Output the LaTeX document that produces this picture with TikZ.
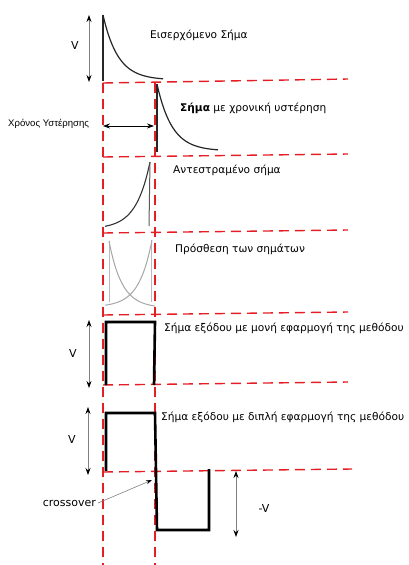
\documentclass[tikz,border=0pt]{standalone}
\usepackage{fontspec}
\setmainfont{DejaVu Sans}
\newfontfamily\arialf{Liberation Sans}
\usetikzlibrary{arrows.meta}
\definecolor{dred}{RGB}{228,30,36}
\tikzset{
  reddash/.style={draw=dred, line width=1.4pt, dash pattern=on 10pt off 6pt},
  sig/.style={draw=black!85, line width=1.2pt},
  pulse/.style={draw=black, line width=2.6pt, line join=miter},
  varrow/.style={draw=gray, line width=0.8pt, {Stealth[length=7pt,width=5pt,black]}-{Stealth[length=7pt,width=5pt,black]}},
  lbl/.style={font=\fontsize{10.6}{12}\selectfont, inner sep=0pt, anchor=west},
  smlbl/.style={font=\arialf\fontsize{9.6}{11}\selectfont, inner sep=0pt, anchor=west},
  vlbl/.style={font=\fontsize{11}{13}\selectfont, inner sep=0pt},
}
\begin{document}
\begin{tikzpicture}[x=1pt,y=-1pt]
\useasboundingbox (0,0) rectangle (408,565);
% red dashed guides
\coordinate (l0) at (103,83);  \coordinate (l1) at (103,565);
\coordinate (r0) at (155,83);  \coordinate (r1) at (155,565);
\draw[reddash] (l0) -- (l1);
\draw[reddash] (r0) -- (r1);
\coordinate (h1a) at (103,83);  \coordinate (h1b) at (348,79);
\coordinate (h2a) at (103,157); \coordinate (h2b) at (348,154);
\coordinate (h3a) at (103,233); \coordinate (h3b) at (348,230);
\coordinate (h4a) at (103,315); \coordinate (h4b) at (348,312);
\coordinate (h5a) at (103,385); \coordinate (h5b) at (348,382);
\coordinate (h6a) at (103,472); \coordinate (h6b) at (352,469);
\foreach \i in {1,...,6} \draw[reddash] (h\i a) -- (h\i b);

% incoming signal
\draw[sig] (103,81) -- (103,15);
\draw[sig] plot[domain=0:60, samples=50] ({103+\x},{15+65*(1-exp(-\x/15))});
\coordinate (va1) at (89,15); \coordinate (vb1) at (89,82);
\draw[varrow] (va1) -- (vb1);
\node[vlbl] (V1) at (75,45) {V};
\node[lbl] (t1) at (150,35) {Εισερχόμενο Σήμα};

% delayed signal
\draw[sig] (157,152) -- (157,84);
\draw[sig] plot[domain=0:61, samples=50] ({157+\x},{84+67*(1-exp(-\x/15))});
\coordinate (da) at (103,126); \coordinate (db) at (154,126);
\draw[draw=black, line width=0.7pt, {Stealth[length=7pt,width=5pt]}-{Stealth[length=7pt,width=5pt]}] (da) -- (db);
\node[smlbl] (t2l) at (8,124) {Χρόνος Υστέρησης};
\node[lbl] (t2) at (180,108) {\textbf{Σήμα} με χρονική υστέρηση};

% inverted signal
\draw[draw=black!80, line width=1.1pt] plot[domain=105:150, samples=50] (\x,{229-67*exp(-(150-\x)/14)});
\draw[draw=black!65, line width=1.0pt] (150,162) -- (149,226);
\node[lbl] (t3) at (173,170) {Αντεστραμένο σήμα};

% sum of signals
\draw[draw=gray!55, line width=1.0pt] (109,241) -- (109,302);
\draw[draw=gray!55, line width=1.0pt] (151,240) -- (151,302);
\draw[draw=gray!70, line width=1.0pt] plot[domain=0:46, samples=50] ({109+\x},{241+67*(1-exp(-\x/13))});
\draw[draw=gray!70, line width=1.0pt] plot[domain=105:152, samples=50] (\x,{307-67*exp(-(152-\x)/13)});
\node[lbl] (t4) at (175,249) {Πρόσθεση των σημάτων};

% single output
\coordinate (p1) at (106,385); \coordinate (p2) at (106,322);
\coordinate (p3) at (155,322); \coordinate (p4) at (154,385);
\draw[pulse] (p1) -- (p2) -- (p3) -- (p4);
\coordinate (va2) at (89,320); \coordinate (vb2) at (89,388);
\draw[varrow] (va2) -- (vb2);
\node[vlbl] (V2) at (73,353) {V};
\node[lbl] (t5) at (164,328) {Σήμα εξόδου με μονή εφαρμογή της μεθόδου};

% double output
\coordinate (q1) at (106,471); \coordinate (q2) at (106,413);
\coordinate (q3) at (155,413); \coordinate (q4) at (157,530);
\coordinate (q5) at (209,530); \coordinate (q6) at (209,469);
\draw[pulse] (q1) -- (q2) -- (q3) -- (q4) -- (q5) -- (q6);
\coordinate (va3) at (88,407); \coordinate (vb3) at (88,475);
\draw[varrow] (va3) -- (vb3);
\node[vlbl] (V3) at (72,439) {V};
\node[lbl] (t6) at (161,417) {Σήμα εξόδου με διπλή εφαρμογή της μεθόδου};
\coordinate (va4) at (236,471); \coordinate (vb4) at (236,537);
\draw[varrow] (va4) -- (vb4);
\node[vlbl] (V4) at (264,508) {-V};

% crossover
\node[font=\fontsize{11}{13}\selectfont, inner sep=0pt, anchor=east] (co) at (96,503) {crossover};
\coordinate (cx) at (152,480);
\draw[draw=gray, line width=0.6pt, -{Stealth[length=6pt,width=4pt,black]}] ([xshift=2pt]co.east) -- (cx);
\end{tikzpicture}
\end{document}
